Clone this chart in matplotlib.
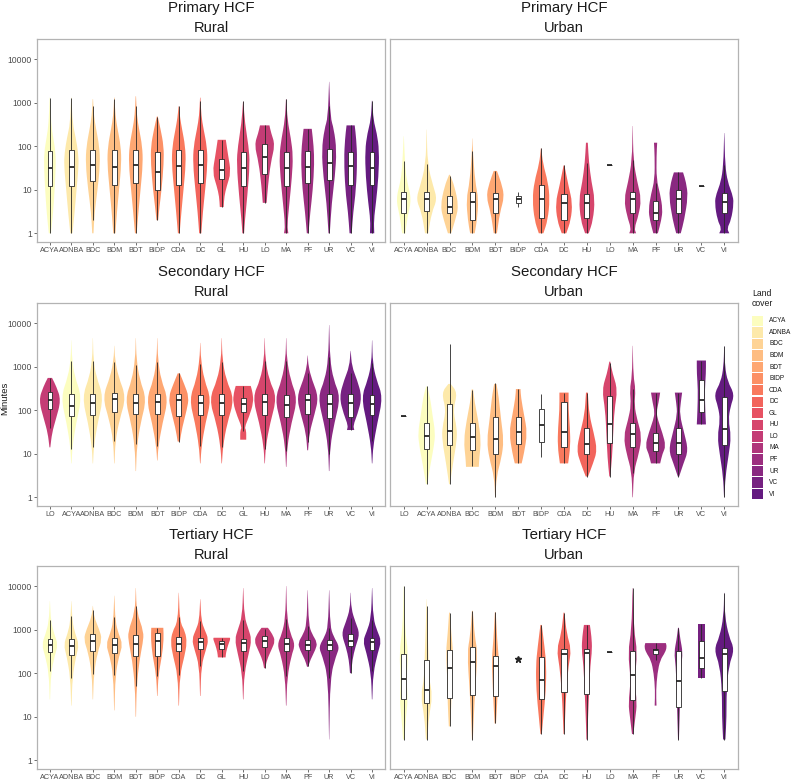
import numpy as np
import matplotlib
matplotlib.use("Agg")
import matplotlib.pyplot as plt
from matplotlib.patches import Rectangle, PathPatch
from matplotlib.path import Path

plt.rcParams['font.family'] = ['Liberation Sans', 'DejaVu Sans']

# %% land cover classes (legend order)
land_cover = ["ACYA", "ADNBA", "BDC", "BDM", "BDT", "BIDP", "CDA", "DC",
              "GL", "HU", "LO", "MA", "PF", "UR", "VC", "VI"]

# %% Primary HCF - Rural
p1_cats = ["ACYA", "ADNBA", "BDC", "BDM", "BDT", "BIDP", "CDA", "DC",
           "GL", "HU", "LO", "MA", "PF", "UR", "VC", "VI"]
p1_wlo = [1, 1, 2, 1, 1, 2, 1, 1, 4, 1, 5, 1, 1, 1, 1, 1]
p1_whi = [1300, 1300, 850, 1230, 850, 470, 830, 1100, 138, 1070, 300, 1210, 250, 830, 300, 1100]
p1_q1 = [12, 12, 16, 13, 14, 10, 13, 14, 18, 12, 23, 12, 14.6, 17, 13, 13]
p1_med = [32, 33, 37, 34, 36, 26, 35, 36, 28.5, 31, 56, 31, 34, 40, 35, 32]
p1_q3 = [78, 80, 81, 80, 82, 75, 80, 83, 52, 73, 114, 75, 78, 85, 75, 75]
p1_vy = [[1, 3, 10, 30, 70, 160, 320, 1300],
         [1, 3, 10, 35, 70, 160, 330, 1300],
         [1, 3, 10, 40, 100, 250, 500, 1200],
         [1, 3, 10, 40, 100, 250, 500, 1300],
         [1, 3, 10, 40, 100, 250, 500, 1400],
         [2, 4, 10, 40, 100, 250, 480],
         [1, 3, 10, 40, 100, 250, 450, 820],
         [1, 3, 10, 40, 100, 250, 500, 1300],
         [4, 7, 12, 25, 60, 140],
         [1, 2, 7, 40, 100, 340, 1050],
         [5, 12, 42, 107, 200, 300],
         [1, 1.5, 5, 20, 60, 150, 400, 1200],
         [1, 3, 10, 40, 100, 250],
         [1, 5, 20, 80, 250, 450, 3000],
         [1, 3, 10, 50, 150, 300],
         [1, 2, 5, 20, 80, 200, 400, 1100]]
p1_vw = [[.05, .15, .22, .27, .27, .15, .06, .01],
         [.05, .15, .24, .34, .32, .2, .06, .01],
         [.03, .08, .22, .34, .3, .15, .05, .01],
         [.05, .12, .22, .33, .3, .15, .05, .01],
         [.04, .12, .22, .33, .3, .15, .05, .01],
         [.04, .1, .2, .3, .3, .15, .02],
         [.04, .12, .22, .33, .3, .15, .06, .01],
         [.05, .12, .23, .34, .31, .15, .05, .01],
         [.09, .12, .23, .43, .3, .19],
         [.04, .08, .19, .31, .25, .08, .01],
         [.09, .15, .28, .48, .3, .22],
         [.1, .05, .15, .27, .32, .22, .06, .01],
         [.04, .12, .24, .31, .28, .19],
         [.03, .12, .27, .35, .22, .06, .005],
         [.05, .12, .25, .31, .26, .19],
         [.1, .08, .18, .3, .33, .22, .06, .01]]

# %% Primary HCF - Urban
p2_cats = ["ACYA", "ADNBA", "BDC", "BDM", "BDT", "BIDP", "CDA", "DC",
           "HU", "LO", "MA", "PF", "UR", "VC", "VI"]
p2_wlo = [1, 1, 1, 1, 1, 4.1, 1, 1, 1, 37, 1, 1, 1, 12.3, 1]
p2_whi = [46, 38, 21, 76, 27, 8.7, 89, 36, 40, 37, 47, 14, 26, 12.3, 36]
p2_q1 = [3, 3.2, 3, 2, 3, 4.9, 2.2, 2.05, 2.2, 37, 3, 2.05, 3, 12.3, 3]
p2_med = [6.1, 6.1, 4.1, 5.1, 6.1, 6, 6.1, 4.9, 5, 37, 6.1, 3, 6.1, 12.3, 5.1]
p2_q3 = [9.1, 9.1, 7, 9.1, 8.2, 7.2, 13, 7.9, 7.9, 37, 8.9, 5.6, 10, 12.3, 8.4]
p2_vy = [[1, 2.5, 6, 15, 29, 170],
         [1, 3, 6, 12, 38, 240],
         [1, 2, 4.2, 12, 22],
         [1, 2, 6, 15, 76, 150],
         [1, 3, 7, 15, 27],
         [],
         [1, 2, 6, 15, 40, 89],
         [1, 2, 5, 12, 36],
         [1, 2, 6, 15, 42, 120],
         [],
         [1, 1.3, 2.5, 6, 15, 47, 290],
         [1, 2, 3.5, 8, 17, 60, 120],
         [1, 2, 7, 15, 25],
         [],
         [1, 1.3, 2, 5, 8, 15, 36, 200]]
p2_vw = [[.07, .17, .34, .15, .07, .005],
         [.07, .22, .46, .29, .04, .005],
         [.07, .25, .4, .22, .02],
         [.1, .2, .27, .12, .02, .005],
         [.07, .2, .4, .25, .07],
         [],
         [.1, .29, .38, .3, .08, .01],
         [.1, .3, .37, .2, .02],
         [.08, .27, .35, .2, .09, .04],
         [],
         [.15, .07, .25, .38, .2, .03, .005],
         [.1, .25, .31, .2, .04, .04, .07],
         [.1, .25, .42, .33, .2],
         [],
         [.22, .12, .3, .42, .35, .15, .04, .005]]

# %% Secondary HCF - Rural
p3_cats = ["LO", "ACYA", "ADNBA", "BDC", "BDM", "BDT", "BIDP", "CDA", "DC",
           "GL", "HU", "MA", "PF", "UR", "VC", "VI"]
p3_wlo = [38, 13, 14, 20, 16.5, 15, 19, 15, 14, 33, 12.6, 11.6, 19, 10, 35, 20]
p3_whi = [550, 1340, 1340, 1250, 1100, 1300, 700, 1120, 1300, 360, 1380, 1330, 700, 1650, 700, 1200]
p3_q1 = [108, 73, 77, 92, 80, 80, 75, 77, 77, 89, 77, 70, 81, 65, 68, 77]
p3_med = [175, 125, 149, 178, 149, 155, 170, 147, 147, 142, 155, 134, 175, 142, 147, 142]
p3_q3 = [262, 232, 240, 253, 232, 240, 230, 228, 240, 195, 240, 228, 240, 240, 232, 228]
p3_vy = [[14, 30, 60, 170, 350, 550],
         [6, 15, 50, 200, 600, 1500, 4000],
         [6, 15, 50, 200, 600, 1500, 4500],
         [6, 20, 60, 200, 600, 1500, 3000],
         [4, 15, 50, 180, 500, 1500, 4500],
         [7, 15, 50, 180, 500, 1500, 4500],
         [19, 40, 100, 200, 400, 700],
         [6, 15, 50, 180, 500, 1500, 3500],
         [6, 15, 50, 180, 500, 1500, 4500],
         [21, 35, 40, 70, 150, 250, 360],
         [6, 15, 50, 200, 500, 1500, 4500],
         [5, 15, 50, 180, 500, 1500, 4500],
         [12, 30, 80, 200, 500, 1000, 1800],
         [4, 15, 50, 200, 500, 1500, 9000],
         [35, 45, 80, 200, 500, 1000, 2300],
         [6, 15, 50, 200, 500, 1200, 4000]]
p3_vw = [[.02, .1, .27, .52, .3, .1],
         [.01, .05, .22, .49, .15, .03, .005],
         [.01, .05, .22, .5, .15, .03, .005],
         [.01, .05, .24, .55, .18, .03, .005],
         [.01, .05, .22, .5, .18, .03, .005],
         [.01, .05, .24, .51, .17, .03, .005],
         [.05, .16, .37, .48, .25, .05],
         [.01, .06, .24, .51, .18, .03, .005],
         [.01, .06, .25, .59, .2, .03, .005],
         [.14, .14, .06, .27, .48, .44, .35],
         [.01, .05, .25, .57, .2, .03, .005],
         [.01, .05, .24, .53, .2, .03, .005],
         [.02, .08, .32, .51, .2, .04, .005],
         [.01, .05, .24, .53, .2, .04, .005],
         [.17, .12, .32, .53, .3, .06, .005],
         [.01, .05, .24, .5, .2, .03, .005]]

# %% Secondary HCF - Urban
p4_cats = ["LO", "ACYA", "ADNBA", "BDC", "BDM", "BDT", "BIDP", "CDA", "DC",
           "HU", "MA", "PF", "UR", "VC", "VI"]
p4_wlo = [73, 2.05, 2, 5.1, 1, 6, 8.3, 6, 3, 3, 3.6, 6, 3, 47, 1]
p4_whi = [73, 350, 3300, 295, 420, 305, 240, 253, 253, 1200, 310, 253, 253, 1380, 2900]
p4_q1 = [73, 13, 16, 12, 10, 17, 19, 14.6, 10, 18, 14, 11.8, 9.9, 89, 16]
p4_med = [73, 25.5, 34, 24, 22, 31, 45, 31.5, 16.5, 48, 28, 17.7, 18, 175, 37]
p4_q3 = [73, 50, 137, 50, 70, 70, 104, 150, 38, 212, 50, 29.4, 38, 480, 200]
p4_vy = [[],
         [2, 5, 15, 30, 80, 200, 350],
         [2, 6, 20, 40, 100, 250, 400],
         [5, 8, 20, 60, 150, 300],
         [1, 3, 8, 20, 60, 200, 400],
         [6, 10, 30, 80, 200, 305],
         [],
         [6, 15, 40, 100, 253],
         [3, 6, 12, 30, 80, 253],
         [3, 8, 30, 100, 300, 700, 1300],
         [1, 4, 10, 25, 60, 130, 300, 600, 3000],
         [6, 10, 15, 30, 60, 90, 150, 253],
         [3, 6, 12, 30, 80, 150, 253],
         [47, 100, 300, 700, 1380],
         [1, 3, 10, 25, 60, 120, 230, 450, 1000, 2900]]
p4_vw = [[],
         [.03, .15, .32, .38, .25, .15, .02],
         [.02, .15, .32, .32, .15, .35, .05],
         [.28, .3, .38, .25, .1, .03],
         [.01, .05, .27, .37, .25, .15, .05],
         [.15, .25, .4, .25, .12, .1],
         [],
         [.18, .28, .26, .2, .2],
         [.05, .27, .45, .3, .1, .04],
         [.02, .1, .15, .2, .34, .12, .02],
         [.01, .05, .27, .4, .2, .07, .13, .03, .005],
         [.2, .3, .45, .3, .1, .04, .13, .2],
         [.03, .22, .43, .25, .05, .1, .16],
         [.2, .17, .15, .2, .2],
         [.01, .05, .2, .3, .18, .27, .45, .15, .03, .005]]

# %% Tertiary HCF - Rural
p5_cats = ["ACYA", "ADNBA", "BDC", "BDM", "BDT", "BIDP", "CDA", "DC",
           "GL", "HU", "LO", "MA", "PF", "UR", "VC", "VI"]
p5_wlo = [110, 78, 95, 92, 50, 88, 90, 145, 240, 110, 130, 85, 145, 78, 100, 110]
p5_whi = [1670, 2000, 2800, 1900, 3500, 1100, 1900, 1550, 650, 1700, 1050, 1730, 1200, 1100, 1800, 1700]
p5_q1 = [310, 265, 325, 290, 250, 250, 315, 365, 360, 325, 390, 315, 345, 345, 410, 345]
p5_med = [450, 425, 560, 450, 465, 535, 465, 510, 465, 490, 535, 465, 450, 450, 560, 515]
p5_q3 = [605, 605, 800, 630, 760, 830, 660, 640, 535, 620, 700, 640, 580, 580, 800, 640]
p5_vy = [[25, 100, 250, 450, 800, 1500, 4500],
         [18, 80, 250, 450, 800, 1500, 4500],
         [25, 100, 300, 600, 1000, 2000, 3500],
         [14, 90, 250, 450, 800, 1500, 6000],
         [10, 50, 200, 500, 900, 2500, 9000],
         [30, 90, 250, 600, 1100],
         [18, 90, 250, 500, 900, 1500, 7000],
         [30, 150, 350, 600, 1000, 1600, 5000],
         [230, 300, 450, 600, 650],
         [25, 100, 300, 600, 1000, 2000, 9000],
         [130, 200, 350, 550, 800, 1100],
         [18, 80, 250, 450, 800, 1800, 10000],
         [140, 200, 350, 500, 800, 1300, 8000],
         [3, 80, 250, 400, 700, 1200, 8000],
         [100, 200, 400, 800, 1500, 3000, 7000],
         [25, 100, 300, 550, 900, 1800, 9000]]
p5_vw = [[.01, .05, .22, .38, .2, .05, .005],
         [.01, .05, .22, .36, .18, .05, .005],
         [.01, .05, .22, .43, .3, .05, .005],
         [.01, .05, .22, .39, .2, .05, .005],
         [.01, .04, .17, .33, .37, .04, .005],
         [.01, .05, .22, .3, .28],
         [.01, .05, .27, .38, .3, .05, .005],
         [.01, .05, .27, .39, .2, .05, .005],
         [.18, .2, .3, .4, .38],
         [.01, .05, .27, .39, .25, .05, .005],
         [.03, .1, .32, .49, .35, .15],
         [.01, .05, .24, .42, .2, .04, .005],
         [.03, .12, .37, .45, .2, .05, .005],
         [.005, .05, .32, .49, .2, .05, .005],
         [.03, .08, .22, .43, .22, .03, .005],
         [.01, .05, .27, .43, .25, .05, .005]]

# %% Tertiary HCF - Urban
p6_cats = ["ACYA", "ADNBA", "BDC", "BDM", "BDT", "BIDP", "CDA", "DC",
           "HU", "LO", "MA", "PF", "UR", "VC", "VI"]
p6_wlo = [3, 3, 6, 3, 7, 210, 4, 4, 3, 300, 4, 200, 3, 78, 3]
p6_whi = [10000, 3500, 2450, 2700, 2500, 210, 1280, 2450, 1280, 300, 8900, 480, 1100, 1350, 7000]
p6_q1 = [25, 21, 27, 31, 29.5, 210, 26, 37, 33, 300, 24, 275, 17, 130, 38]
p6_med = [73, 40.5, 130, 180, 145, 210, 71, 280, 290, 300, 91, 340, 65, 222, 280]
p6_q3 = [275, 205, 340, 405, 245, 210, 240, 360, 360, 300, 325, 350, 315, 550, 375]
p6_vy = [[3, 10, 25, 70, 300, 1000, 10000],
         [3, 10, 30, 80, 300, 1000, 5000],
         [6, 20, 80, 300, 800, 2450],
         [3, 10, 40, 300, 700, 2700],
         [7, 20, 60, 200, 600, 2500],
         [],
         [4, 10, 40, 150, 400, 1280],
         [4, 10, 40, 150, 350, 800, 2450],
         [3, 10, 40, 150, 350, 700, 1280],
         [],
         [4, 10, 20, 70, 300, 1000, 9000],
         [18, 40, 100, 200, 300, 400, 490],
         [3, 10, 40, 150, 300, 600, 1100],
         [78, 1350],
         [3, 10, 40, 150, 350, 700, 2000, 7000]]
p6_vw = [[.03, .1, .18, .12, .2, .05, .005],
         [.03, .1, .26, .1, .08, .04, .005],
         [.03, .08, .1, .16, .08, .02],
         [.02, .06, .12, .23, .1, .02],
         [.03, .08, .12, .16, .08, .02],
         [],
         [.03, .1, .21, .23, .15, .03],
         [.02, .05, .1, .2, .32, .12, .02],
         [.02, .05, .1, .15, .23, .2, .13],
         [],
         [.03, .12, .19, .08, .21, .05, .005],
         [.04, .02, .08, .2, .42, .49, .45],
         [.02, .05, .08, .12, .19, .08, .02],
         [.15, .15],
         [.05, .1, .1, .2, .45, .2, .03, .005]]

# %% styling
cmap = plt.get_cmap('magma')
pal = cmap(np.linspace(1.0, 0.3, len(land_cover)))
colors = dict(zip(land_cover, pal))
W, H = 795, 782
BOX_W = 0.22
LINE_C = '#262626'
TXT_C = '#4d4d4d'


def smooth_side(pts):
    '''quadratic bezier through knot midpoints (knots act as control points)'''
    verts, codes = [], []
    n = len(pts)
    if n < 3:
        for p in pts[1:]:
            verts.append(p)
            codes.append(Path.LINETO)
        return verts, codes
    m = [((pts[i][0] + pts[i + 1][0]) / 2, np.sqrt(pts[i][1] * pts[i + 1][1]))
         for i in range(n - 1)]
    verts.append(m[0])
    codes.append(Path.LINETO)
    for i in range(1, n - 1):
        verts += [pts[i], m[i]]
        codes += [Path.CURVE3, Path.CURVE3]
    verts.append(pts[-1])
    codes.append(Path.LINETO)
    return verts, codes


def violin_patch(x, ys, ws, color):
    right = [(x + w, y) for y, w in zip(ys, ws)]
    left = [(x - w, y) for y, w in zip(ys, ws)][::-1]
    verts = [left[-1], right[0]]
    codes = [Path.MOVETO, Path.LINETO]
    v, c = smooth_side(right)
    verts += v
    codes += c
    verts.append(left[0])
    codes.append(Path.LINETO)
    v, c = smooth_side(left)
    verts += v
    codes += c
    verts.append(left[-1])
    codes.append(Path.CLOSEPOLY)
    return PathPatch(Path(verts, codes), fc=color, ec='none', lw=0, zorder=1)


def draw_panel(ax, cats, wlo, whi, q1, med, q3, vy, vw, show_y):
    for i, c in enumerate(cats):
        x = i + 1
        if len(vy[i]):
            ax.add_patch(violin_patch(x, vy[i], vw[i], colors[c]))
        ax.vlines(x, wlo[i], q1[i], color=LINE_C, lw=0.6, zorder=2)
        ax.vlines(x, q3[i], whi[i], color=LINE_C, lw=0.6, zorder=2)
        ax.add_patch(Rectangle((x - BOX_W / 2, q1[i]), BOX_W, q3[i] - q1[i],
                               fc='white', ec=LINE_C, lw=0.6, zorder=3))
        ax.hlines(med[i], x - BOX_W / 2, x + BOX_W / 2, color=LINE_C, lw=1.3, zorder=4)
    ax.set_yscale('log')
    ax.set_ylim(10 ** -0.2, 10 ** 4.46)
    ax.set_xlim(0.4, len(cats) + 0.6)
    ax.set_xticks(range(1, len(cats) + 1))
    ax.set_xticklabels(cats, fontsize=5.2, color=TXT_C)
    ax.minorticks_off()
    ax.tick_params(axis='x', length=2, width=0.5, color='#333333', pad=1.5)
    if show_y:
        ax.set_yticks([1, 10, 100, 1000, 10000])
        ax.set_yticklabels(['1', '10', '100', '1000', '10000'], fontsize=6.2, color=TXT_C)
        ax.tick_params(axis='y', length=2, width=0.5, color='#333333', pad=1.5)
    else:
        ax.set_yticks([])
    for s in ax.spines.values():
        s.set_color('#b3b3b3')
        s.set_linewidth(0.9)


fig = plt.figure(figsize=(W / 100, H / 100), dpi=100)

panels = [
    (p1_cats, p1_wlo, p1_whi, p1_q1, p1_med, p1_q3, p1_vy, p1_vw),
    (p2_cats, p2_wlo, p2_whi, p2_q1, p2_med, p2_q3, p2_vy, p2_vw),
    (p3_cats, p3_wlo, p3_whi, p3_q1, p3_med, p3_q3, p3_vy, p3_vw),
    (p4_cats, p4_wlo, p4_whi, p4_q1, p4_med, p4_q3, p4_vy, p4_vw),
    (p5_cats, p5_wlo, p5_whi, p5_q1, p5_med, p5_q3, p5_vy, p5_vw),
    (p6_cats, p6_wlo, p6_whi, p6_q1, p6_med, p6_q3, p6_vy, p6_vw),
]
row_tops = [39, 303, 566]
row_titles = ["Primary HCF", "Secondary HCF", "Tertiary HCF"]
col_lefts = [37, 390]
col_names = ["Rural", "Urban"]
pw, ph = 348, 203

for k, pdata in enumerate(panels):
    r, c = divmod(k, 2)
    left, top = col_lefts[c], row_tops[r]
    ax = fig.add_axes([left / W, 1 - (top + ph) / H, pw / W, ph / H])
    draw_panel(ax, *pdata, show_y=(c == 0))
    cx = (left + pw / 2) / W
    fig.text(cx, 1 - (top - 31) / H, row_titles[r], ha='center', va='center',
             fontsize=10.8, color='#1a1a1a')
    fig.text(cx, 1 - (top - 11) / H, col_names[c], ha='center', va='center',
             fontsize=10.5, color='#1a1a1a')
    if k == 5:
        # single-value marker for BIDP
        ax.plot(p6_cats.index("BIDP") + 1, p6_med[5], marker='*', ms=4.5,
                color=LINE_C, zorder=5)

fig.text(5 / W, 1 - 398 / H, "Minutes", rotation=90, ha='center', va='center',
         fontsize=6.8, color='#1a1a1a')

# %% legend
fig.text(752 / W, 1 - 294 / H, "Land", ha='left', va='center', fontsize=6.2, color='#1a1a1a')
fig.text(752 / W, 1 - 303 / H, "cover", ha='left', va='center', fontsize=6.2, color='#1a1a1a')
key_top, key_h = 315, 11.56
for j, lc in enumerate(land_cover):
    yt = key_top + j * key_h
    fig.patches.append(Rectangle((752 / W, 1 - (yt + key_h - 0.6) / H), 11 / W,
                                 (key_h - 1.2) / H, transform=fig.transFigure,
                                 fc=colors[lc], ec='none'))
    fig.text(769 / W, 1 - (yt + key_h / 2) / H, lc, ha='left', va='center',
             fontsize=4.7, color='#1a1a1a')

fig.savefig("out.png", dpi=100, facecolor='white')
